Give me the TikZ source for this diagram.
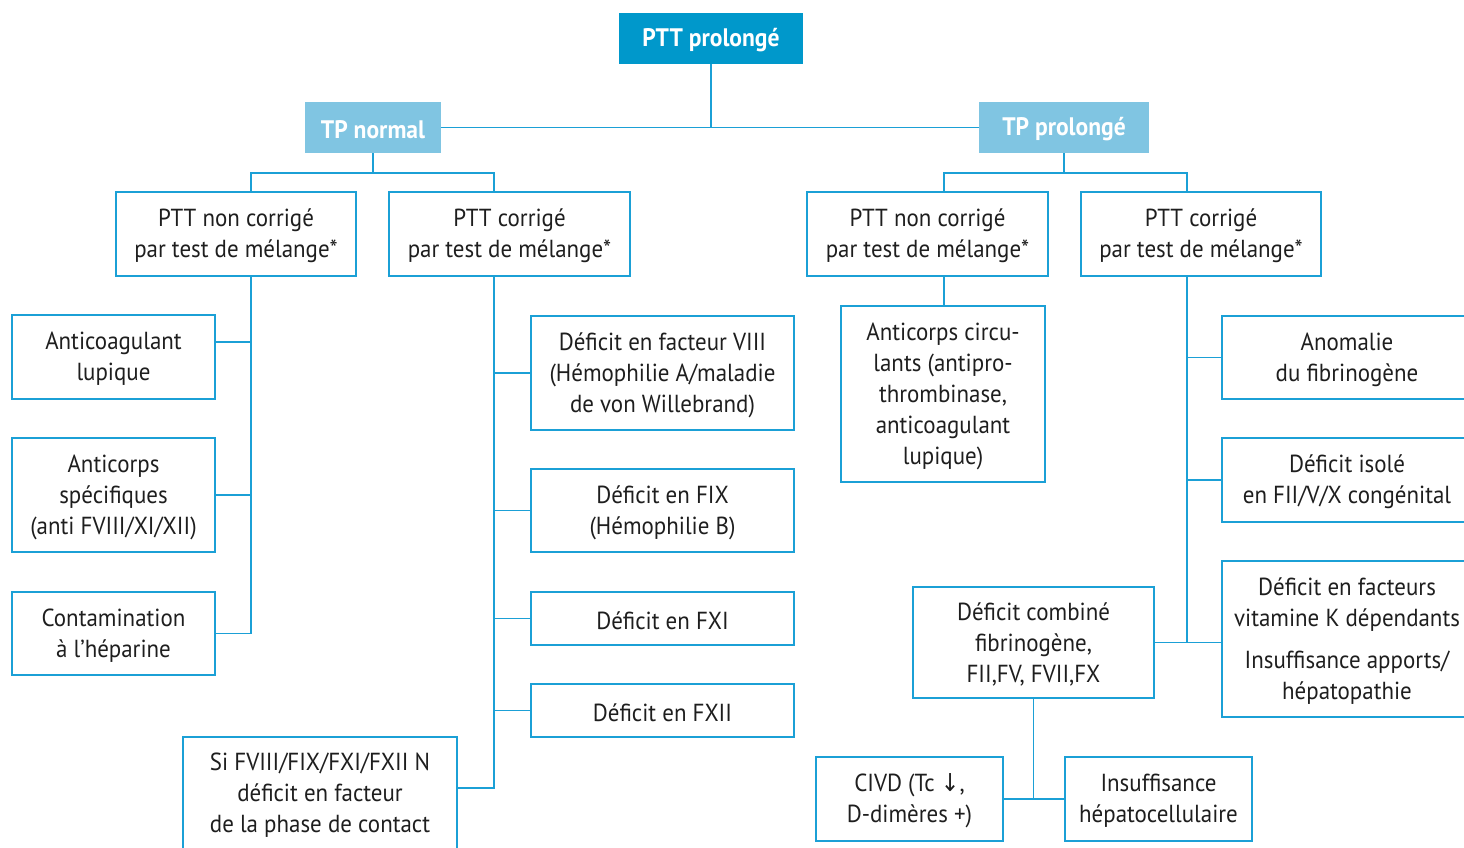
\documentclass[tikz,border=0pt]{standalone}
\usepackage{fontspec}
\setmainfont{PT Sans}[FakeStretch=0.93]
\newfontfamily\symfont{DejaVu Sans}[FakeStretch=0.9]
\usetikzlibrary{fit}
\definecolor{darkblue}{RGB}{0,152,203}
\definecolor{lightblue}{RGB}{128,197,226}
\definecolor{linecol}{RGB}{27,160,214}
\definecolor{txtcol}{RGB}{30,30,30}
\begin{document}
\begin{tikzpicture}[x=0.75pt,y=-0.75pt,
  box/.style={draw=linecol, line width=1.2pt, inner sep=0pt},
  headbox/.style={fill=darkblue, inner sep=0pt},
  subbox/.style={fill=lightblue, inner sep=0pt},
  lab/.style={align=center, text=txtcol, inner sep=0pt, yshift=-1.5pt,
              font=\fontsize{18.5}{23.25}\selectfont},
  hlab/.style={align=center, text=white, inner sep=0pt, yshift=-1.5pt,
              font=\fontsize{19}{22}\selectfont\bfseries},
  conn/.style={draw=linecol, line width=1.2pt}]
\useasboundingbox (0,0) rectangle (1464,847);
\clip (0,0) rectangle (1464,847);

% header nodes
\node[headbox, fit={(619,13) (803,64)}, label={[hlab]center:{PTT prolongé}}] (top) {};
\node[subbox, fit={(305,102) (441,153)}, label={[hlab]center:{TP normal}}] (tpn) {};
\node[subbox, fit={(979,102) (1149,153)}, label={[hlab]center:{TP prolongé}}] (tpp) {};

% second level
\node[box, fit={(116,192) (356,276)}, label={[lab]center:{PTT non corrigé\\par test de mélange*}}] (ncL) {};
\node[box, fit={(389,192) (630,276)}, label={[lab]center:{PTT corrigé\\par test de mélange*}}] (cL) {};
\node[box, fit={(807,192) (1048,276)}, label={[lab]center:{PTT non corrigé\\par test de mélange*}}] (ncR) {};
\node[box, fit={(1081,192) (1321,276)}, label={[lab]center:{PTT corrigé\\par test de mélange*}}] (cR) {};

% left column
\node[box, fit={(12,315) (215,399)}, label={[lab]center:{Anticoagulant\\lupique}}] (ac) {};
\node[box, fit={(12,438) (215,552)}, label={[lab]center:{Anticorps\\spécifiques\\(anti FVIII/XI/XII)}}] (as) {};
\node[box, fit={(12,592) (215,675)}, label={[lab]center:{Contamination\\à l’héparine}}] (ch) {};

% middle column
\node[box, fit={(531,316) (794,430)}, label={[lab]center:{Déficit en facteur VIII\\(Hémophilie A/maladie\\de von Willebrand)}}] (f8) {};
\node[box, fit={(531,469) (794,552)}, label={[lab]center:{Déficit en FIX\\(Hémophilie B)}}] (f9) {};
\node[box, fit={(531,592) (794,645)}, label={[lab]center:{Déficit en FXI}}] (f11) {};
\node[box, fit={(531,684) (794,737)}, label={[lab]center:{Déficit en FXII}}] (f12) {};
\node[box, fit={(183,737) (457,849)}, label={[lab]center:{Si FVIII/FIX/FXI/FXII N\\déficit en facteur\\de la phase de contact}}] (si) {};

% right side
\node[box, fit={(841,306) (1045,482)}, label={[lab]center:{Anticorps circu-\\lants (antipro-\\thrombinase,\\anticoagulant\\lupique)}}] (circ) {};
\node[box, fit={(1222,316) (1472,399)}, label={[lab]center:{Anomalie\\du fibrinogène}}] (anom) {};
\node[box, fit={(1222,438) (1472,522)}, label={[lab]center:{Déficit isolé\\en FII/V/X congénital}}] (iso) {};
\node[box, fit={(1222,561) (1472,717)}, label={[lab]center:{Déficit en facteurs\\vitamine K dépendants\\[8pt]Insuffisance apports/\\hépatopathie}}] (vitk) {};
\node[box, fit={(913,587) (1154,698)}, label={[lab]center:{Déficit combiné\\fibrinogène,\\FII,FV, FVII,FX}}] (comb) {};
\node[box, fit={(816,757) (1003,841)}, label={[lab]center:{CIVD (Tc {\symfont ↓},\\D-dimères +)}}] (civd) {};
\node[box, fit={(1065,757) (1252,841)}, label={[lab]center:{Insuffisance\\hépatocellulaire}}] (hep) {};

% bus coordinates
\coordinate (bl1) at (251,173);
\coordinate (bl2) at (494,173);
\coordinate (br1) at (944,173);
\coordinate (br2) at (1187,173);

% top connectors
\draw[conn] (top.south) -- (top.south |- tpn.east);
\draw[conn] (tpn.east) -- (tpp.west);

% left subtree
\draw[conn] (tpn.south) -- (tpn.south |- bl1);
\draw[conn] (bl1 |- ncL.north) -- (bl1) -- (bl2) -- (bl2 |- cL.north);
\coordinate (acj) at ([yshift=11.25pt]ac.east);
\draw[conn] (bl1 |- ncL.south) -- (bl1 |- ch.east) -- (ch.east);
\draw[conn] (acj) -- (acj -| bl1);
\draw[conn] (as.east) -- (as.east -| bl1);

% middle subtree
\coordinate (sij) at ([yshift=3.75pt]si.east);
\draw[conn] (bl2 |- cL.south) -- (bl2 |- sij) -- (sij);
\draw[conn] (f8.west) -- (f8.west -| bl2);
\draw[conn] (f9.west) -- (f9.west -| bl2);
\draw[conn] (f11.west) -- (f11.west -| bl2);
\draw[conn] (f12.west) -- (f12.west -| bl2);

% right subtree
\draw[conn] (tpp.south) -- (tpp.south |- br1);
\draw[conn] (br1 |- ncR.north) -- (br1) -- (br2) -- (br2 |- cR.north);
\draw[conn] (br1 |- ncR.south) -- (br1 |- circ.north);
\draw[conn] (br2 |- cR.south) -- (br2 |- comb.east);
\draw[conn] (anom.west) -- (anom.west -| br2);
\draw[conn] (iso.west) -- (iso.west -| br2);
\draw[conn] (comb.east) -- (comb.east -| vitk.west);
\draw[conn] (comb.south) -- (comb.south |- civd.east);
\draw[conn] (civd.east) -- (hep.west);
\end{tikzpicture}
\end{document}
